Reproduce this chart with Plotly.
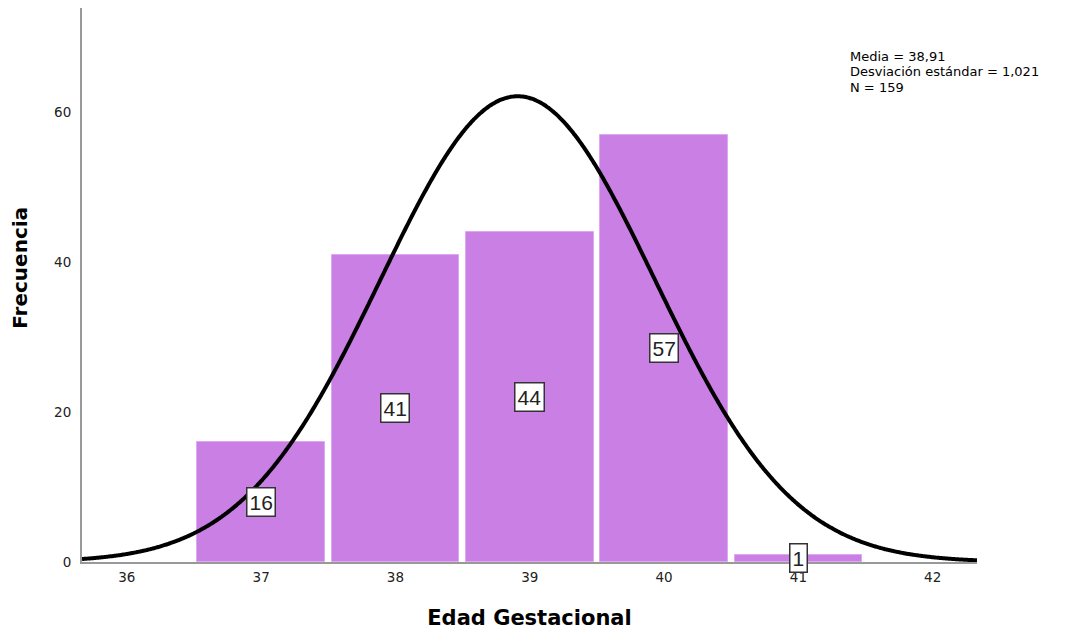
import numpy as np
import plotly.graph_objects as go

# Data
edad = [37, 38, 39, 40, 41]
frecuencia = [16, 41, 44, 57, 1]
x_ticks = [36, 37, 38, 39, 40, 41, 42]
y_ticks = [0, 20, 40, 60]
media = 38.91
desv = 1.021
n_total = 159

x_min, x_max = 35.666, 42.33
xs = np.linspace(x_min, x_max, 600)
curve = n_total * 1.0 / (desv * np.sqrt(2 * np.pi)) * np.exp(-0.5 * ((xs - media) / desv) ** 2)

FONT = "Arial, Liberation Sans, sans-serif"
WIDE = "DejaVu Sans, Arial, sans-serif"

fig = go.Figure()
fig.add_trace(go.Bar(
    x=edad, y=frecuencia, width=0.95,
    marker=dict(color="#CA7FE4", line=dict(color="#DDA8F0", width=1)),
    hoverinfo="x+y", showlegend=False,
))
fig.add_trace(go.Scatter(
    x=xs, y=curve, mode="lines",
    line=dict(color="black", width=4, shape="spline"), showlegend=False, hoverinfo="skip",
))

for xv, yv in zip(edad, frecuencia):
    fig.add_annotation(
        x=xv, y=yv / 2, text=str(yv), showarrow=False,
        font=dict(family=FONT, size=21, color="#222"),
        bgcolor="white", bordercolor="#333", borderwidth=1.5, borderpad=2,
    )

stats_lines = [
    f"Media = {media:.2f}".replace(".", ","),
    f"Desviación estándar = {desv:.3f}".replace(".", ","),
    f"N = {n_total}",
]
for i, line in enumerate(stats_lines):
    fig.add_annotation(
        xref="paper", yref="paper", x=0.856, y=0.9116 - i * 0.0271,
        xanchor="left", yanchor="middle", align="left", showarrow=False,
        text=line, font=dict(family=WIDE, size=13, color="black"),
    )

# y-axis title placed as rotated text
fig.add_annotation(
    xref="paper", yref="paper", x=-0.0693, y=0.531, textangle=-90,
    xanchor="center", yanchor="middle", showarrow=False,
    text="<b>Frecuencia</b>", font=dict(family=WIDE, size=20, color="black"),
)

fig.update_layout(
    width=1060, height=622,
    margin=dict(l=74, r=91, t=0, b=68),
    paper_bgcolor="white", plot_bgcolor="white",
    bargap=0,
    font=dict(family=FONT),
    xaxis=dict(
        range=[x_min, x_max], tickvals=x_ticks, ticktext=[str(t) for t in x_ticks],
        showgrid=False, zeroline=False, showline=True, linecolor="#999", linewidth=2,
        ticks="", tickfont=dict(family=WIDE, size=13.5, color="#222"), automargin=False,
        ticklabelstandoff=2,
        title=dict(text="<b>Edad Gestacional</b>", font=dict(family=WIDE, size=21, color="black"), standoff=28),
    ),
    yaxis=dict(
        range=[0, 73.9], tickvals=y_ticks,
        showgrid=False, zeroline=False, showline=True, linecolor="#999", linewidth=2,
        ticks="", tickfont=dict(family=WIDE, size=13.5, color="#222"), automargin=False,
        ticklabelstandoff=6,
    ),
)

fig.write_html("out.html")
